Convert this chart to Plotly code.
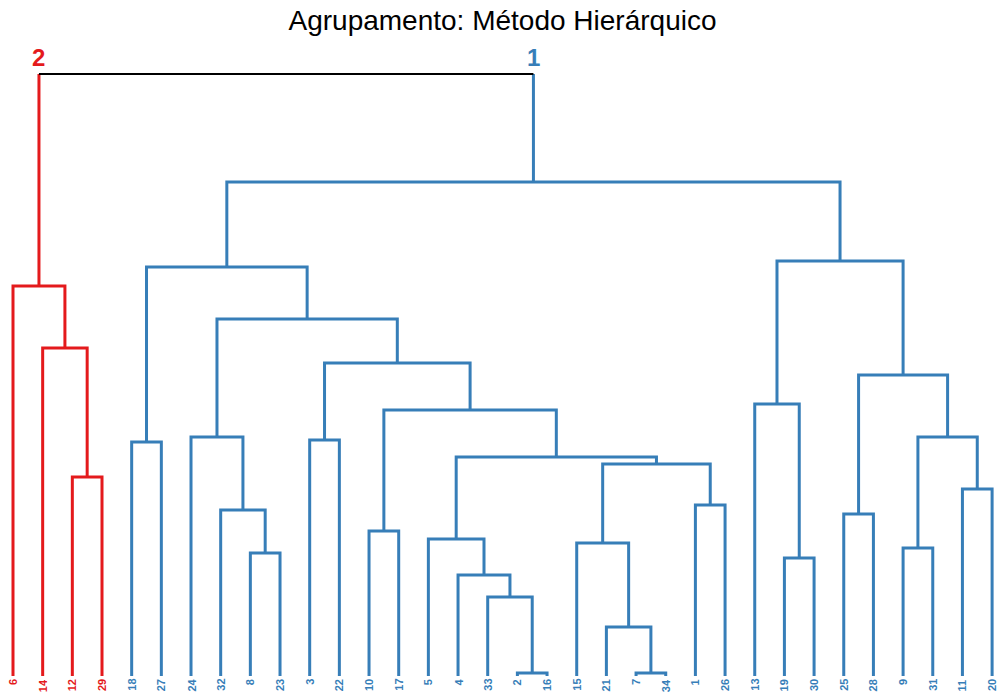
import plotly.graph_objects as go

# Agglomeration steps: (node name, left child, right child, merge height)
node_names = ["a", "b", "c", "d", "e", "f", "g", "h", "i", "j", "k", "l", "m",
              "n", "o", "p", "q", "r", "s", "t", "u", "v", "w", "x", "y", "z",
              "aa", "ab", "ac", "ad", "ae", "af", "root"]
left_child = ["12", "14", "6", "18", "8", "32", "24", "3", "10", "2", "33", "4", "5",
              "7", "21", "15", "1", "p", "m", "i", "h", "g", "d", "19", "13", "25",
              "9", "11", "aa", "z", "y", "w", "c"]
right_child = ["29", "a", "b", "27", "23", "e", "f", "22", "17", "16", "j", "k", "l",
               "34", "n", "o", "26", "q", "r", "s", "t", "u", "v", "30", "x", "28",
               "31", "20", "ab", "ac", "ad", "ae", "af"]
merge_height = [19.9, 32.8, 39.0, 23.4, 12.3, 16.6, 23.9, 23.6, 14.5, 0.3, 7.9, 10.1, 13.7,
                0.3, 4.9, 13.3, 17.1, 21.2, 21.9, 26.6, 31.3, 35.7, 40.9, 11.8, 27.2, 16.2,
                12.8, 18.7, 23.9, 30.1, 41.5, 49.4, 60.2]

# Two clusters cut from the tree
cluster_nodes = ["c", "af"]
cluster_labels = ["2", "1"]
cluster_colors = ["#E41A1C", "#377EB8"]

title_text = "Agrupamento: Método Hierárquico"

children = {n: (l, r) for n, l, r in zip(node_names, left_child, right_child)}
height = {n: h for n, h in zip(node_names, merge_height)}

# Leaf order and x positions from a depth-first walk
xpos = {}
leaves = []


def walk(node):
    if node in children:
        l, r = children[node]
        walk(l)
        walk(r)
        xpos[node] = (xpos[l] + xpos[r]) / 2
    else:
        leaves.append(node)
        xpos[node] = len(leaves)
        height[node] = 0.0


walk("root")

# Colour of every node below a cluster root
node_color = {}


def paint(node, color):
    node_color[node] = color
    if node in children:
        for c in children[node]:
            paint(c, color)


for n, col in zip(cluster_nodes, cluster_colors):
    paint(n, col)

segs = {col: ([], []) for col in cluster_colors + ["black"]}


def add(col, xs, ys):
    segs[col][0].extend(xs + [None])
    segs[col][1].extend(ys + [None])


for n in node_names:
    l, r = children[n]
    h = height[n]
    if n == "root":
        add(node_color[l], [xpos[l], xpos[l]], [height[l], h])
        add(node_color[r], [xpos[r], xpos[r]], [height[r], h])
        add("black", [xpos[l], xpos[r]], [h, h])
    else:
        add(node_color[n], [xpos[l], xpos[l], xpos[r], xpos[r]],
            [height[l], h, h, height[r]])

fig = go.Figure()
for col, (xs, ys) in segs.items():
    fig.add_trace(go.Scatter(x=xs, y=ys, mode="lines",
                             line=dict(color=col, width=2 if col == "black" else 3),
                             hoverinfo="skip", showlegend=False))

# Leaf labels, rotated under each leaf
for leaf in leaves:
    fig.add_annotation(x=xpos[leaf], y=0, text="<b>%s</b>" % leaf,
                       textangle=-90, showarrow=False,
                       xanchor="center", yanchor="top", yshift=-1,
                       font=dict(family="Liberation Sans, Arial", size=11,
                                 color=node_color[leaf]))

# Cluster numbers above the root legs
for n, lab, col in zip(cluster_nodes, cluster_labels, cluster_colors):
    fig.add_annotation(x=xpos[n], y=height["root"], text="<b>%s</b>" % lab,
                       showarrow=False, yanchor="bottom", yshift=1,
                       font=dict(family="Liberation Sans, Arial", size=24, color=col))

n_leaves = len(leaves)
fig.update_layout(
    width=1001, height=700,
    margin=dict(l=0, r=0, t=0, b=0),
    paper_bgcolor="white", plot_bgcolor="white",
    title=dict(text=title_text, x=0.502, xanchor="center",
               yref="container", y=1 - 20 / 700, yanchor="middle",
               font=dict(family="Liberation Sans, Arial", size=28, color="black")),
    xaxis=dict(range=[0.562, n_leaves + 0.30], visible=False, fixedrange=True),
    yaxis=dict(range=[-2.4, 67.6], visible=False, fixedrange=True),
)

fig.write_html("out.html")
